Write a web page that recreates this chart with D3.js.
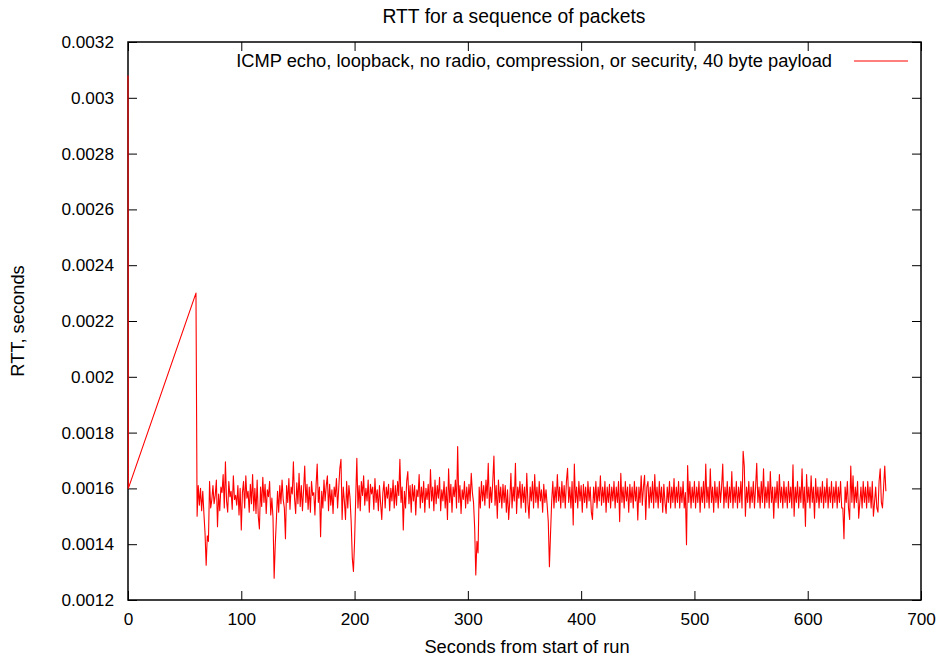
<!DOCTYPE html>
<html>
<head>
<meta charset="utf-8">
<script src="https://cdn.jsdelivr.net/npm/d3@7"></script>
<style>
  html, body { margin: 0; padding: 0; background: #fff; }
  svg text { font-family: "Liberation Sans", Arial, sans-serif; fill: #000; }
</style>
</head>
<body>
<svg id="chart" width="952" height="660"></svg>
<script>
// ---- Data ----
const chartTitle = "RTT for a sequence of packets";
const xLabel = "Seconds from start of run";
const yLabel = "RTT, seconds";
const seriesName = "ICMP echo, loopback, no radio, compression, or security, 40 byte payload";

const xTicks = [0, 100, 200, 300, 400, 500, 600, 700];
const yTicks = [0.0012, 0.0014, 0.0016, 0.0018, 0.002, 0.0022, 0.0024, 0.0026, 0.0028, 0.003, 0.0032];

// first few packets (seconds, RTT in microseconds)
const earlyTimes = [0, 0.3, 60];
const earlyRttMicros = [3080, 1600, 2300];

// one packet per second from this second onward, RTT in microseconds
const steadyStartSecond = 61;
const steadyRttMicros = [
  1500,1610,1540,1600,1520,1590,1510,1440,1325,1430,
  1410,1625,1530,1560,1610,1545,1575,1630,1463,1580,
  1520,1605,1585,1650,1530,1695,1555,1515,1625,1570,
  1590,1525,1645,1560,1575,1540,1610,1505,1600,1451,
  1585,1625,1530,1645,1565,1590,1515,1615,1545,1650,
  1520,1600,1510,1630,1500,1455,1605,1535,1640,1550,
  1615,1510,1595,1570,1625,1505,1565,1495,1278,1400,
  1490,1590,1515,1610,1545,1630,1560,1530,1420,1610,
  1550,1635,1525,1605,1580,1695,1565,1510,1620,1545,
  1654,1535,1610,1520,1595,1680,1550,1615,1525,1605,
  1515,1625,1575,1585,1505,1610,1687,1550,1605,1427,
  1590,1530,1630,1555,1610,1645,1520,1615,1540,1595,
  1510,1605,1570,1635,1530,1600,1672,1704,1489,1605,
  1555,1489,1625,1530,1610,1565,1480,1350,1302,1409,
  1565,1708,1530,1610,1520,1625,1575,1645,1540,1600,
  1555,1630,1515,1615,1580,1605,1525,1635,1550,1595,
  1520,1610,1545,1489,1585,1625,1530,1605,1565,1615,
  1520,1600,1555,1630,1530,1610,1540,1625,1575,1704,
  1550,1605,1451,1590,1530,1625,1660,1545,1610,1515,
  1615,1555,1610,1505,1595,1570,1650,1530,1605,1550,
  1625,1515,1600,1560,1615,1530,1668,1555,1605,1520,
  1630,1545,1610,1565,1640,1520,1595,1555,1625,1530,
  1605,1489,1670,1550,1615,1515,1605,1570,1630,1530,
  1750,1550,1610,1510,1595,1560,1625,1530,1605,1545,
  1615,1555,1654,1585,1550,1460,1290,1410,1369,1605,
  1530,1625,1555,1610,1540,1630,1565,1690,1530,1605,
  1550,1625,1716,1540,1610,1493,1630,1550,1605,1530,
  1615,1550,1610,1515,1595,1489,1555,1654,1530,1605,
  1555,1690,1510,1605,1565,1625,1530,1615,1550,1605,
  1515,1654,1550,1493,1605,1555,1625,1530,1650,1550,
  1605,1530,1625,1555,1595,1515,1615,1550,1595,1540,
  1480,1319,1440,1555,1625,1530,1605,1550,1650,1555,
  1605,1530,1625,1550,1610,1530,1625,1672,1550,1605,
  1530,1625,1469,1687,1550,1605,1530,1625,1555,1610,
  1515,1615,1550,1605,1530,1625,1555,1605,1515,1489,
  1605,1550,1625,1530,1605,1555,1645,1540,1605,1550,
  1625,1515,1605,1550,1615,1530,1605,1555,1625,1530,
  1605,1550,1625,1481,1654,1550,1605,1530,1625,1555,
  1605,1515,1615,1550,1605,1530,1625,1555,1605,1487,
  1605,1550,1645,1540,1605,1647,1489,1605,1625,1530,
  1605,1550,1625,1530,1650,1550,1605,1530,1625,1550,
  1605,1515,1615,1550,1510,1605,1550,1625,1530,1605,
  1550,1635,1530,1605,1550,1625,1530,1605,1550,1625,
  1530,1585,1398,1682,1550,1625,1530,1605,1550,1625,
  1530,1605,1550,1625,1515,1605,1550,1625,1530,1687,
  1550,1605,1530,1670,1550,1605,1515,1625,1550,1605,
  1530,1625,1550,1605,1687,1530,1605,1550,1625,1530,
  1605,1550,1660,1530,1605,1550,1625,1530,1605,1550,
  1625,1530,1733,1680,1500,1605,1550,1625,1530,1605,
  1550,1625,1530,1605,1690,1550,1605,1530,1625,1550,
  1670,1530,1605,1550,1625,1530,1660,1550,1605,1493,
  1605,1550,1625,1530,1650,1550,1605,1530,1625,1550,
  1605,1530,1625,1550,1605,1530,1685,1500,1605,1550,
  1625,1530,1605,1550,1670,1530,1605,1464,1650,1550,
  1605,1530,1645,1550,1605,1493,1635,1550,1605,1530,
  1605,1550,1625,1530,1605,1550,1635,1530,1605,1550,
  1625,1530,1605,1550,1625,1530,1605,1550,1625,1530,
  1530,1420,1605,1550,1625,1530,1489,1680,1550,1645,
  1530,1605,1550,1625,1493,1550,1605,1530,1625,1550,
  1605,1530,1625,1550,1605,1530,1625,1500,1550,1605,
  1530,1515,1625,1670,1550,1530,1605,1680,1590
];

// ---- Build points ----
const points = [];
earlyTimes.forEach((t, i) => points.push({ t, rtt: earlyRttMicros[i] / 1e6 }));
steadyRttMicros.forEach((v, i) => points.push({ t: steadyStartSecond + i, rtt: v / 1e6 }));

// ---- Layout ----
const svg = d3.select("#chart");
const W = 952, H = 660;
const margin = { left: 128, right: 31, top: 42, bottom: 60 };
const x = d3.scaleLinear().domain([0, 700]).range([margin.left, W - margin.right]);
const y = d3.scaleLinear().domain([0.0012, 0.0032]).range([H - margin.bottom, margin.top]);
const fsTick = 17.2;
const fs = 18.3;
const fsTitle = 19.3;
const tickLen = 9;
const FONT = "Liberation Sans, Arial, sans-serif";

// axes with inward ticks (gnuplot style, mirrored)
const fmt = d => String(+d.toFixed(4));
svg.append("g").attr("transform", `translate(0,${y.range()[0]})`)
  .call(d3.axisBottom(x).tickValues(xTicks).tickSize(-tickLen).tickPadding(tickLen + 4).tickFormat(d3.format("d")))
  .call(g => g.select(".domain").remove())
  .call(g => g.selectAll("text").attr("font-size", fsTick).attr("font-family", FONT));
svg.append("g").attr("transform", `translate(0,${y.range()[1]})`)
  .call(d3.axisTop(x).tickValues(xTicks).tickSize(-tickLen).tickFormat(""))
  .call(g => g.select(".domain").remove());
svg.append("g").attr("transform", `translate(${x.range()[0]},0)`)
  .call(d3.axisLeft(y).tickValues(yTicks).tickSize(-tickLen).tickPadding(tickLen + 5).tickFormat(fmt))
  .call(g => g.select(".domain").remove())
  .call(g => g.selectAll("text").attr("font-size", fsTick).attr("font-family", FONT));
svg.append("g").attr("transform", `translate(${x.range()[1]},0)`)
  .call(d3.axisRight(y).tickValues(yTicks).tickSize(-tickLen).tickFormat(""))
  .call(g => g.select(".domain").remove());
svg.selectAll(".tick line").attr("stroke", "#000").attr("stroke-width", 1);

// frame
svg.append("rect")
  .attr("x", x.range()[0]).attr("y", y.range()[1])
  .attr("width", x.range()[1] - x.range()[0]).attr("height", y.range()[0] - y.range()[1])
  .attr("fill", "none").attr("stroke", "#000").attr("stroke-width", 1.5);

// data line
const line = d3.line().x(d => x(d.t)).y(d => y(d.rtt));
svg.append("path").datum(points)
  .attr("d", line).attr("fill", "none").attr("stroke", "#ff0000").attr("stroke-width", 1.1)
  .attr("stroke-linejoin", "round");

// legend
const legY = 61;
svg.append("text").attr("x", 832).attr("y", legY).attr("dy", "0.35em")
  .attr("text-anchor", "end").attr("font-size", fs).text(seriesName);
svg.append("line").attr("x1", 854).attr("x2", 908).attr("y1", legY).attr("y2", legY)
  .attr("stroke", "#ff0000").attr("stroke-width", 1.1);

// title and axis labels
svg.append("text").attr("x", 514).attr("y", 16).attr("dy", "0.35em")
  .attr("text-anchor", "middle").attr("font-size", fsTitle).text(chartTitle);
svg.append("text").attr("x", 527).attr("y", 647).attr("dy", "0.35em")
  .attr("text-anchor", "middle").attr("font-size", fs).text(xLabel);
svg.append("text").attr("transform", "translate(18,321) rotate(-90)").attr("dy", "0.35em")
  .attr("text-anchor", "middle").attr("font-size", fs).text(yLabel);
</script>
</body>
</html>
